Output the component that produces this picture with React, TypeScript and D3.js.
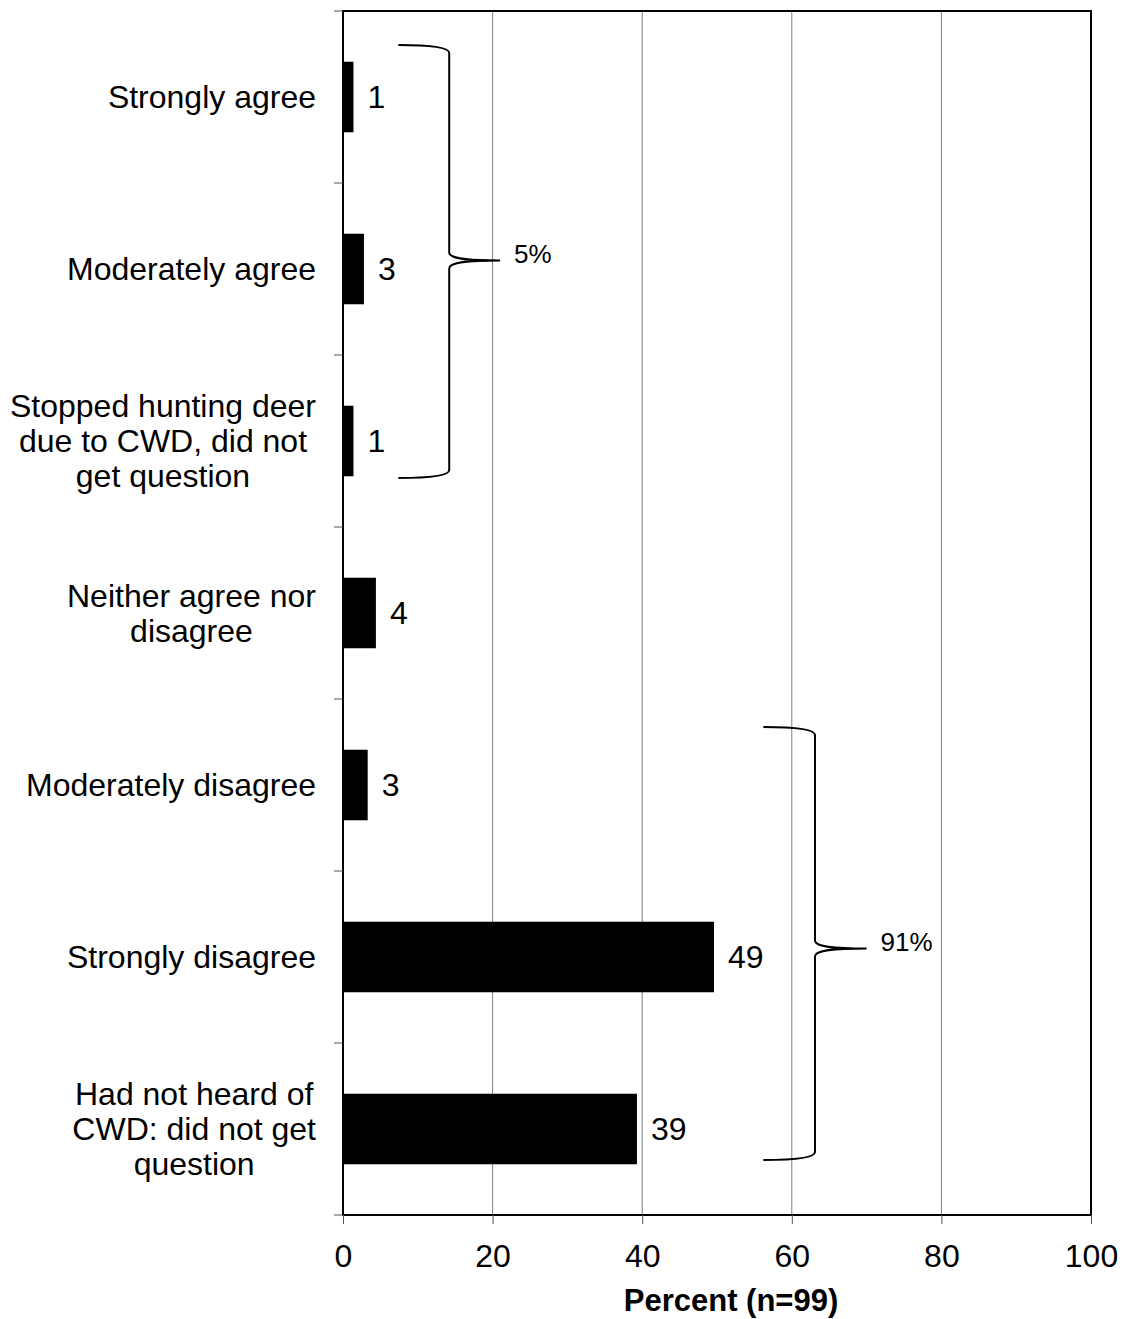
import { useEffect, useRef } from "react";
import * as d3 from "d3";

const categories = [
  "Strongly agree",
  "Moderately agree",
  "Stopped hunting deer|due to CWD, did not|get question",
  "Neither agree nor|disagree",
  "Moderately disagree",
  "Strongly disagree",
  "Had not heard of|CWD: did not get|question",
];
const values = [1.4, 2.8, 1.4, 4.4, 3.3, 49.6, 39.3];
const valueLabels = ["1", "3", "1", "4", "3", "49", "39"];
const xTicks = [0, 20, 40, 60, 80, 100];
const groups = [
  { from: 0, to: 2, label: "5%" },
  { from: 4, to: 6, label: "91%" },
];

const FONT = "'Liberation Sans', Arial, Helvetica, sans-serif";

export default function App() {
  const svgRef = useRef<SVGSVGElement>(null);

  useEffect(() => {
    const W = 1123;
    const H = 1319;
    const left = 343;
    const right = 1091;
    const top = 11;
    const bottom = 1215;

    const svg = d3.select(svgRef.current).attr("width", W).attr("height", H);
    svg.selectAll("*").remove();

    const x = d3.scaleLinear().domain([0, 100]).range([left, right]);
    const y = d3
      .scaleBand()
      .domain(categories)
      .range([top, bottom])
      .paddingInner(0.59)
      .paddingOuter(0.295);
    const step = y.step();

    // gridlines
    svg
      .append("g")
      .selectAll("line")
      .data(xTicks.slice(1, -1))
      .join("line")
      .attr("x1", (d) => x(d))
      .attr("x2", (d) => x(d))
      .attr("y1", top)
      .attr("y2", bottom)
      .attr("stroke", "#7f7f7f")
      .attr("stroke-width", 1);

    // bars
    svg
      .append("g")
      .selectAll("rect")
      .data(values)
      .join("rect")
      .attr("x", x(0))
      .attr("y", (d, i) => y(categories[i]) || 0)
      .attr("width", (d) => x(d) - x(0))
      .attr("height", y.bandwidth())
      .attr("fill", "#000");

    // value labels
    svg
      .append("g")
      .selectAll("text")
      .data(values)
      .join("text")
      .attr("x", (d) => x(d) + 14)
      .attr("y", (d, i) => (y(categories[i]) || 0) + y.bandwidth() / 2 + 11)
      .attr("font-family", FONT)
      .attr("font-size", 32)
      .text((d, i) => valueLabels[i]);

    // frame
    svg
      .append("rect")
      .attr("x", left)
      .attr("y", top)
      .attr("width", right - left)
      .attr("height", bottom - top)
      .attr("fill", "none")
      .attr("stroke", "#000")
      .attr("stroke-width", 2);

    // y ticks at category boundaries
    const boundaries = d3.range(categories.length + 1).map((i) => top + i * step);
    svg
      .append("g")
      .selectAll("line")
      .data(boundaries)
      .join("line")
      .attr("x1", left - 9)
      .attr("x2", left)
      .attr("y1", (d) => d)
      .attr("y2", (d) => d)
      .attr("stroke", "#555")
      .attr("stroke-width", 1);

    // x axis
    const xAxis = d3
      .axisBottom(x)
      .tickValues(xTicks)
      .tickSize(9)
      .tickPadding(20)
      .tickFormat((d) => String(d));
    const gx = svg
      .append("g")
      .attr("transform", `translate(0,${bottom})`)
      .call(xAxis);
    gx.select(".domain").remove();
    gx.selectAll(".tick line").attr("stroke", "#555");
    gx.selectAll(".tick text")
      .attr("font-family", FONT)
      .attr("font-size", 32)
      .attr("fill", "#000");

    svg
      .append("text")
      .attr("x", 731)
      .attr("y", 1311)
      .attr("text-anchor", "middle")
      .attr("font-family", FONT)
      .attr("font-size", 31)
      .attr("font-weight", "bold")
      .text("Percent (n=99)");

    // category labels: lines centred within a block whose right edge is fixed
    const labelRight = 316;
    const lineH = 35;
    categories.forEach((c, i) => {
      const lines = c.split("|");
      const cy = top + (i + 0.5) * step;
      const g = svg.append("g");
      const texts = g
        .selectAll("text")
        .data(lines)
        .join("text")
        .attr("font-family", FONT)
        .attr("font-size", 32)
        .attr("text-anchor", "middle")
        .attr("y", (d, j) => cy + (j - (lines.length - 1) / 2) * lineH + 11)
        .text((d) => d);
      let maxW = 0;
      texts.each(function () {
        maxW = Math.max(maxW, (this as SVGTextElement).getComputedTextLength());
      });
      texts.attr("x", labelRight - maxW / 2);
    });

    // braces
    groups.forEach((gr, k) => {
      const y0 = top + gr.from * step + (k === 0 ? 34 : 28);
      const y1 = top + (gr.to + 1) * step - (k === 0 ? 49 : 55);
      const ym = top + (gr.from + 1.45) * step;
      const xs = k === 0 ? [7.4, 14.2, 21] : [56.2, 63.1, 70];
      const x0 = x(xs[0]);
      const xv = x(xs[1]);
      const xt = x(xs[2]);
      const r = 8;
      const p = d3.path();
      p.moveTo(x0, y0);
      p.bezierCurveTo(x0 + 30, y0, xv, y0 + 2, xv, y0 + r);
      p.lineTo(xv, ym - r);
      p.bezierCurveTo(xv, ym - 2, xv + 15, ym, xt, ym);
      p.moveTo(xt, ym);
      p.bezierCurveTo(xv + 15, ym, xv, ym + 2, xv, ym + r);
      p.lineTo(xv, y1 - r);
      p.bezierCurveTo(xv, y1 - 2, x0 + 30, y1, x0, y1);
      svg
        .append("path")
        .attr("d", p.toString())
        .attr("fill", "none")
        .attr("stroke", "#000")
        .attr("stroke-width", 2);
      svg
        .append("text")
        .attr("x", xt + 14)
        .attr("y", ym + 3)
        .attr("font-family", FONT)
        .attr("font-size", 26)
        .text(gr.label);
    });

    return () => {
      svg.selectAll("*").remove();
    };
  }, []);

  return (
    <div style={{ position: "absolute", left: 0, top: 0 }}>
      <svg ref={svgRef} style={{ display: "block", background: "#fff" }} />
    </div>
  );
}
